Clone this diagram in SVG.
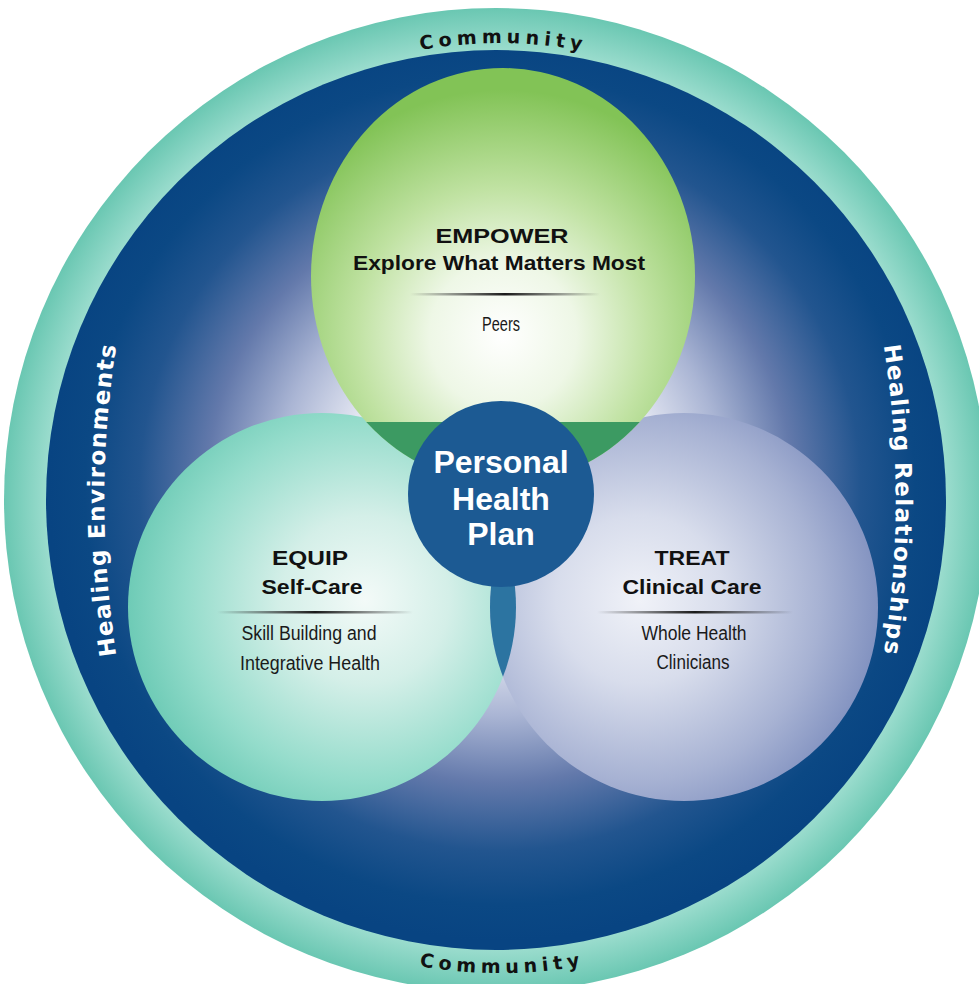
<svg xmlns="http://www.w3.org/2000/svg" width="979" height="984" viewBox="0 0 979 984">
<style>
.title{font-family:"Liberation Sans",Arial,sans-serif;font-weight:bold;font-size:21px;fill:#111;text-anchor:middle}
.sub{font-family:"Liberation Sans Narrow","Liberation Sans",Arial,sans-serif;font-size:20px;fill:#1a1a1a;text-anchor:middle}
.php{font-family:"Liberation Sans",Arial,sans-serif;font-weight:bold;font-size:32px;fill:#fff;text-anchor:middle}
.ring{font-family:"DejaVu Sans",Verdana,sans-serif;font-weight:bold;font-size:19px;fill:#111;letter-spacing:5px}
.heal{font-family:"DejaVu Sans",Verdana,sans-serif;font-weight:bold;font-size:23px;fill:#fff;letter-spacing:1.3px}
</style>
<defs>
<radialGradient id="ringG" gradientUnits="userSpaceOnUse" cx="496" cy="500" r="492">
<stop offset="0.915" stop-color="#9adccd"/>
<stop offset="1" stop-color="#6ac7b2"/>
</radialGradient>
<radialGradient id="bgG" gradientUnits="userSpaceOnUse" cx="500" cy="490" r="451">
<stop offset="0" stop-color="#ffffff"/>
<stop offset="0.35" stop-color="#e4e7f2"/>
<stop offset="0.5" stop-color="#aab5d4"/>
<stop offset="0.65" stop-color="#6379ab"/>
<stop offset="0.8" stop-color="#22558f"/>
<stop offset="0.92" stop-color="#0b4884"/>
<stop offset="1" stop-color="#084482"/>
</radialGradient>
<radialGradient id="greenG" gradientUnits="userSpaceOnUse" cx="503" cy="335" r="245">
<stop offset="0" stop-color="#ffffff"/>
<stop offset="0.3" stop-color="#eef7e6"/>
<stop offset="0.6" stop-color="#c0e2a2"/>
<stop offset="1" stop-color="#82c356"/>
</radialGradient>
<radialGradient id="tealG" gradientUnits="userSpaceOnUse" cx="365" cy="600" r="240">
<stop offset="0" stop-color="#f3faf8"/>
<stop offset="0.35" stop-color="#d4efe8"/>
<stop offset="0.75" stop-color="#94dccb"/>
<stop offset="1" stop-color="#6ccab5"/>
</radialGradient>
<radialGradient id="lavG" gradientUnits="userSpaceOnUse" cx="640" cy="600" r="240">
<stop offset="0" stop-color="#f0f2f8"/>
<stop offset="0.35" stop-color="#d8ddec"/>
<stop offset="0.75" stop-color="#a7b2d3"/>
<stop offset="1" stop-color="#8292c0"/>
</radialGradient>
<linearGradient id="divG" x1="0" y1="0" x2="1" y2="0">
<stop offset="0" stop-color="#1a1a1a" stop-opacity="0"/>
<stop offset="0.5" stop-color="#1a1a1a" stop-opacity="1"/>
<stop offset="1" stop-color="#1a1a1a" stop-opacity="0"/>
</linearGradient>
<clipPath id="clipL"><circle cx="322" cy="607" r="194"/></clipPath>
<clipPath id="clipLow"><rect x="0" y="422" width="979" height="300"/></clipPath>
<ellipse id="tear" cx="503" cy="276" rx="192" ry="208"/>
<path id="arcTop" d="M70.6 343.7 A457 457 0 0 1 929.4 343.7"/>
<path id="arcBot" d="M55.5 661.8 A473 473 0 0 0 944.5 661.8"/>
<path id="arcLeft" d="M136 750 A1000 1000 0 0 1 136 250"/>
<path id="arcRight" d="M864 250 A1000 1000 0 0 1 864 750"/>
</defs>
<rect width="979" height="984" fill="#fff"/>
<g id="outer-ring">
<circle cx="496" cy="500" r="492" fill="url(#ringG)"/>
<circle cx="496" cy="500" r="450" fill="url(#bgG)"/>
<text class="ring"><textPath href="#arcTop" startOffset="561.5" text-anchor="middle">Community</textPath></text>
<text class="ring"><textPath href="#arcBot" startOffset="580" text-anchor="middle">Community</textPath></text>
<text class="heal"><textPath href="#arcLeft" startOffset="50%" text-anchor="middle">Healing Environments</textPath></text>
<text class="heal"><textPath href="#arcRight" startOffset="50%" text-anchor="middle">Healing Relationships</textPath></text>
</g>
<g id="connectors"></g>
<g id="equip">
<circle cx="322" cy="607" r="194" fill="url(#tealG)"/>
</g>
<g id="treat">
<circle cx="684" cy="607" r="194" fill="url(#lavG)"/>
<circle cx="684" cy="607" r="194" fill="#2c74a1" clip-path="url(#clipL)"/>
</g>
<g id="empower">
<use href="#tear" fill="url(#greenG)"/>
<use href="#tear" fill="#3c9a62" clip-path="url(#clipLow)"/>
<text class="title" x="502" y="243" textLength="133" lengthAdjust="spacingAndGlyphs">EMPOWER</text>
<text class="title" x="499" y="270" textLength="292" lengthAdjust="spacingAndGlyphs">Explore What Matters Most</text>
<rect x="410" y="293" width="190" height="2.5" fill="url(#divG)"/>
<text class="sub" x="501" y="331" font-size="19" textLength="38" lengthAdjust="spacingAndGlyphs">Peers</text>
</g>
<g id="equip-text">
<text class="title" x="310" y="565" textLength="76" lengthAdjust="spacingAndGlyphs">EQUIP</text>
<text class="title" x="312" y="594" textLength="101" lengthAdjust="spacingAndGlyphs">Self-Care</text>
<rect x="217" y="611" width="196" height="2.5" fill="url(#divG)"/>
<text class="sub" x="309" y="640" textLength="135" lengthAdjust="spacingAndGlyphs">Skill Building and</text>
<text class="sub" x="310" y="670" textLength="140" lengthAdjust="spacingAndGlyphs">Integrative Health</text>
</g>
<g id="treat-text">
<text class="title" x="692" y="565" textLength="75" lengthAdjust="spacingAndGlyphs">TREAT</text>
<text class="title" x="692" y="594" textLength="139" lengthAdjust="spacingAndGlyphs">Clinical Care</text>
<rect x="597" y="611" width="196" height="2.5" fill="url(#divG)"/>
<text class="sub" x="694" y="640" textLength="105" lengthAdjust="spacingAndGlyphs">Whole Health</text>
<text class="sub" x="693" y="669" textLength="73" lengthAdjust="spacingAndGlyphs">Clinicians</text>
</g>
<g id="personal-health-plan">
<circle cx="501" cy="494" r="93" fill="#1c5a93"/>
<text class="php" x="501" y="473">Personal</text>
<text class="php" x="501" y="510">Health</text>
<text class="php" x="501" y="545">Plan</text>
</g>
</svg>
